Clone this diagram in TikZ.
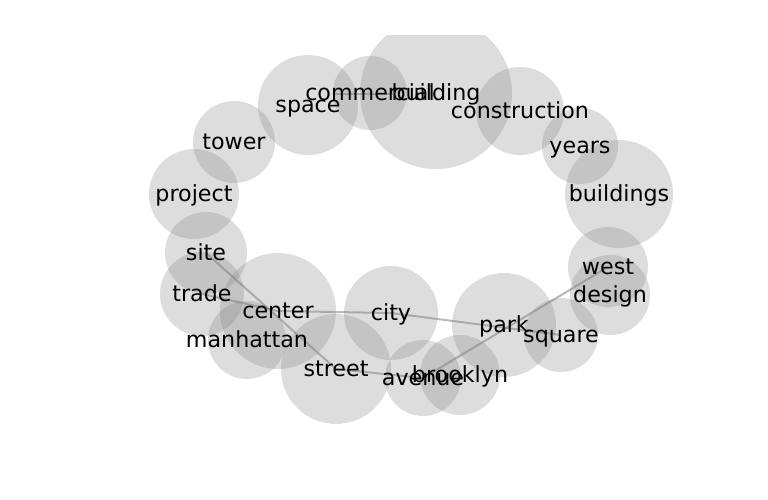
\documentclass[tikz,border=0pt]{standalone}
\usepackage{fontspec}
\setmainfont{DejaVu Sans}
\tikzset{
  bub/.style={circle, fill=gray, fill opacity=0.27, draw=none, inner sep=0pt, minimum size=#1},
  lab/.style={font=\fontsize{22.2}{26}\selectfont, text height=0.76em, text depth=0.24em, inner sep=0pt, text=black, yshift=-5pt},
  edge/.style={draw=gray, draw opacity=0.55, line width=2pt}
}
\begin{document}
\begin{tikzpicture}[x=1pt,y=-1pt]
\useasboundingbox (0,0) rectangle (768,500);
\begin{scope}
\clip (0,36) rectangle (768,500);
\node[bub=100pt] (space) at (308,105) {};
\node[bub=74pt] (commercial) at (370,93) {};
\node[bub=152pt] (building) at (436,93) {};
\node[bub=88pt] (construction) at (520,111) {};
\node[bub=76pt] (years) at (580,146) {};
\node[bub=108pt] (buildings) at (619,194) {};
\node[bub=80pt] (west) at (608,267) {};
\node[bub=80pt] (design) at (610,295) {};
\node[bub=74pt] (square) at (561,335) {};
\node[bub=104pt] (park) at (504,325) {};
\node[bub=80pt] (brooklyn) at (460,375) {};
\node[bub=76pt] (avenue) at (423,378) {};
\node[bub=94pt] (city) at (391,313) {};
\node[bub=110pt] (street) at (336,369) {};
\node[bub=116pt] (center) at (278,311) {};
\node[bub=78pt] (manhattan) at (247,340) {};
\node[bub=84pt] (trade) at (202,294) {};
\node[bub=82pt] (site) at (206,253) {};
\node[bub=90pt] (project) at (194,194) {};
\node[bub=82pt] (tower) at (234,142) {};
\end{scope}
\coordinate (cm1) at (335,94);
\coordinate (cm2) at (393,94);
\draw[edge] (cm1) -- (cm2);
\draw[edge] (site.center) -- (street.center);
\draw[edge] (trade.center) -- (center.center);
\draw[edge] (center.center) -- (city.center);
\draw[edge] (city.center) -- (square.center);
\draw[edge] (street.center) -- (avenue.center);
\draw[edge] (avenue.center) -- (west.center);
\node[lab] (l-space) at (space) {space};
\node[lab] (l-commercial) at (commercial) {commercial};
\node[lab] (l-building) at (building) {building};
\node[lab] (l-construction) at (construction) {construction};
\node[lab] (l-years) at (years) {years};
\node[lab] (l-buildings) at (buildings) {buildings};
\node[lab] (l-west) at (west) {west};
\node[lab] (l-design) at (design) {design};
\node[lab] (l-square) at (square) {square};
\node[lab] (l-park) at (park) {park};
\node[lab] (l-brooklyn) at (brooklyn) {brooklyn};
\node[lab] (l-avenue) at (avenue) {avenue};
\node[lab] (l-city) at (city) {city};
\node[lab] (l-street) at (street) {street};
\node[lab] (l-center) at (center) {center};
\node[lab] (l-manhattan) at (manhattan) {manhattan};
\node[lab] (l-trade) at (trade) {trade};
\node[lab] (l-site) at (site) {site};
\node[lab] (l-project) at (project) {project};
\node[lab] (l-tower) at (tower) {tower};
\end{tikzpicture}
\end{document}
